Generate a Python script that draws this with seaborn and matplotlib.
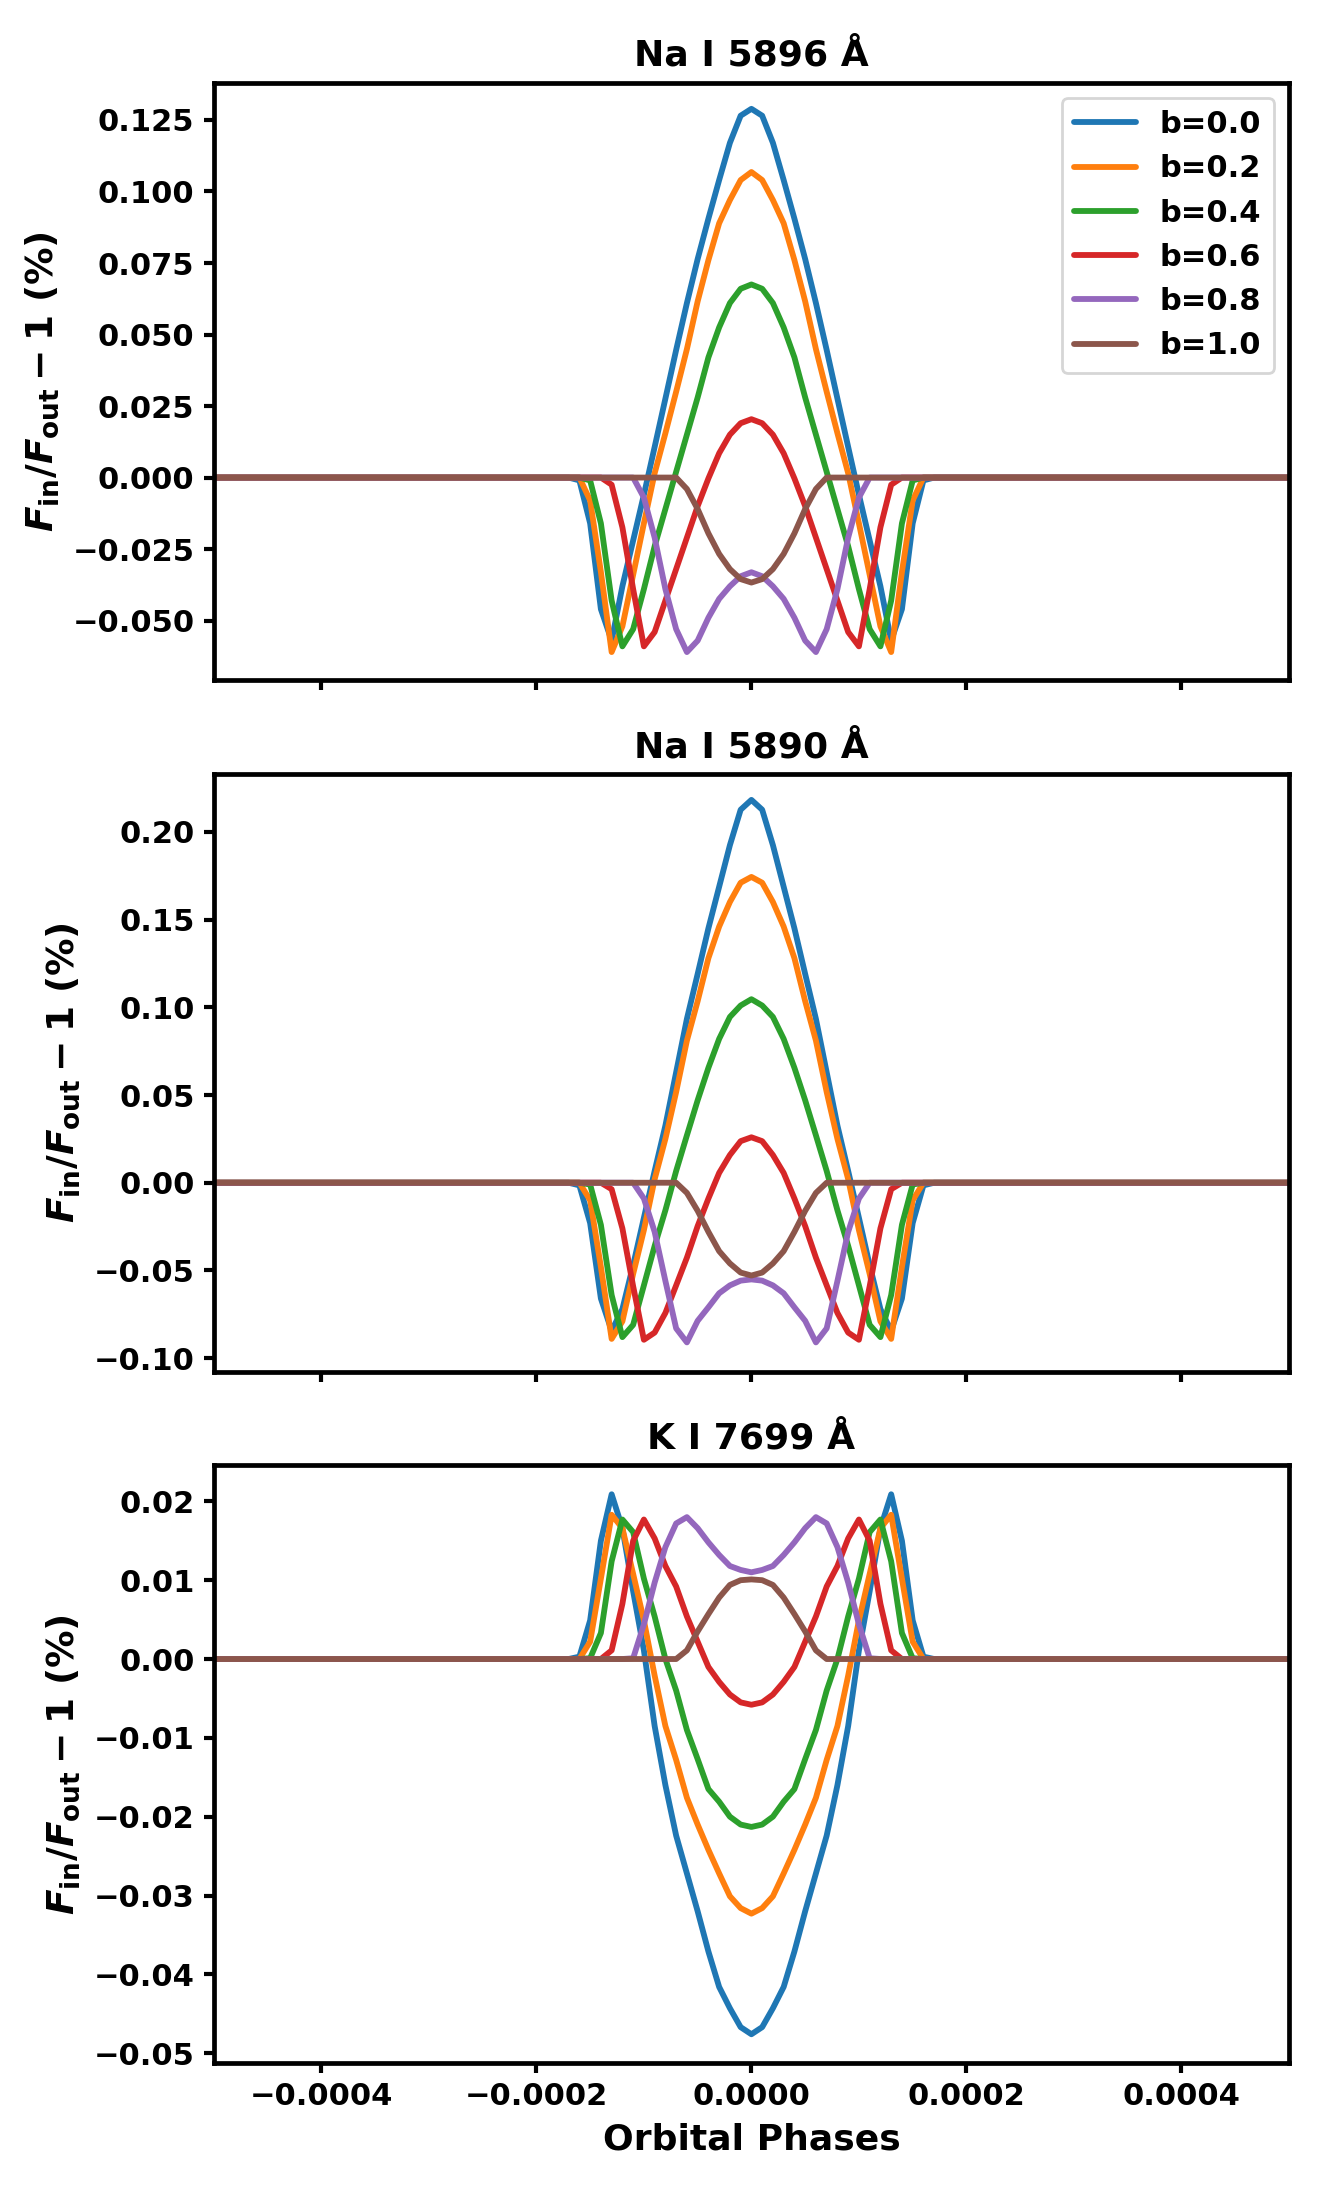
import numpy as np
import pandas as pd
import matplotlib
matplotlib.use("Agg")
import matplotlib.pyplot as plt
import seaborn as sns

# ------------------- Data -------------------
# orbital phase grid, in units of 1e-5
phase_1e5 = [-60, -17, -16, -15, -14, -13, -12, -11, -10, -9, -8, -7, -6, -5, -4, -3, -2, -1,
             0, 1, 2, 3, 4, 5, 6, 7, 8, 9, 10, 11, 12, 13, 14, 15, 16, 17, 60]

b_labels = ["b=0.0", "b=0.2", "b=0.4", "b=0.6", "b=0.8", "b=1.0"]
titles = ["Na I 5896 Å", "Na I 5890 Å", "K I 7699 Å"]

# Na I 5896
na5896_b00 = [0, 0, -0.001, -0.016, -0.046, -0.057, -0.038, -0.022, -0.006, 0.0107, 0.0276, 0.0446, 0.061, 0.0764, 0.0905, 0.104, 0.117, 0.1265,
              0.1289, 0.1265, 0.117, 0.104, 0.0905, 0.0764, 0.061, 0.0446, 0.0276, 0.0107, -0.006, -0.022, -0.038, -0.057, -0.046, -0.016, -0.001, 0, 0]
na5896_b02 = [0, 0, 0.0, -0.008, -0.033, -0.061, -0.052, -0.034, -0.016, 0.0015, 0.0155, 0.030, 0.0449, 0.0616, 0.076, 0.0889, 0.097, 0.104,
              0.1068, 0.104, 0.097, 0.0889, 0.076, 0.0616, 0.0449, 0.030, 0.0155, 0.0015, -0.016, -0.034, -0.052, -0.061, -0.033, -0.008, 0.0, 0, 0]
na5896_b04 = [0, 0, 0.0, -0.001, -0.016, -0.043, -0.059, -0.053, -0.039, -0.024, -0.011, 0.002, 0.015, 0.028, 0.042, 0.0525, 0.061, 0.066,
              0.0675, 0.066, 0.061, 0.0525, 0.042, 0.028, 0.015, 0.002, -0.011, -0.024, -0.039, -0.053, -0.059, -0.043, -0.016, -0.001, 0.0, 0, 0]
na5896_b06 = [0, 0, 0.0, 0.0, 0.0, -0.0025, -0.0174, -0.039, -0.059, -0.054, -0.043, -0.032, -0.021, -0.010, -0.0003, 0.0085, 0.015, 0.019,
              0.0204, 0.019, 0.015, 0.0085, -0.0003, -0.010, -0.021, -0.032, -0.043, -0.054, -0.059, -0.039, -0.0174, -0.0025, 0.0, 0.0, 0.0, 0, 0]
na5896_b08 = [0, 0, 0, 0, 0, 0, 0, 0.0, -0.007, -0.021, -0.039, -0.053, -0.061, -0.057, -0.049, -0.0424, -0.038, -0.0345,
              -0.0331, -0.0345, -0.038, -0.0424, -0.049, -0.057, -0.061, -0.053, -0.039, -0.021, -0.007, 0.0, 0, 0, 0, 0, 0, 0, 0]
na5896_b10 = [0, 0, 0, 0, 0, 0, 0, 0, 0, 0, 0, 0.0, -0.004, -0.011, -0.0195, -0.0267, -0.032, -0.0355,
              -0.0367, -0.0355, -0.032, -0.0267, -0.0195, -0.011, -0.004, 0.0, 0, 0, 0, 0, 0, 0, 0, 0, 0, 0, 0]

# Na I 5890
na5890_b00 = [0, 0, -0.0015, -0.023, -0.066, -0.0844, -0.072, -0.047, -0.020, 0.0067, 0.0326, 0.063, 0.0934, 0.119, 0.145, 0.1687, 0.1924, 0.2126,
              0.2182, 0.2126, 0.1924, 0.1687, 0.145, 0.119, 0.0934, 0.063, 0.0326, 0.0067, -0.020, -0.047, -0.072, -0.0844, -0.066, -0.023, -0.0015, 0, 0]
na5890_b02 = [0, 0, 0.0, -0.010, -0.048, -0.089, -0.079, -0.052, -0.027, 0.002, 0.025, 0.0517, 0.081, 0.1035, 0.128, 0.146, 0.160, 0.171,
              0.1743, 0.171, 0.160, 0.146, 0.128, 0.1035, 0.081, 0.0517, 0.025, 0.002, -0.027, -0.052, -0.079, -0.089, -0.048, -0.010, 0.0, 0, 0]
na5890_b04 = [0, 0, 0.0, -0.001, -0.024, -0.064, -0.088, -0.081, -0.0585, -0.036, -0.0157, 0.0067, 0.027, 0.047, 0.0655, 0.082, 0.0945, 0.101,
              0.1046, 0.101, 0.0945, 0.082, 0.0655, 0.047, 0.027, 0.0067, -0.0157, -0.036, -0.0585, -0.081, -0.088, -0.064, -0.024, -0.001, 0.0, 0, 0]
na5890_b06 = [0, 0, 0.0, 0.0, 0.0, -0.0037, -0.026, -0.059, -0.0895, -0.0854, -0.0742, -0.0585, -0.0427, -0.0247, -0.009, 0.0056, 0.0158, 0.0237,
              0.0259, 0.0237, 0.0158, 0.0056, -0.009, -0.0247, -0.0427, -0.0585, -0.0742, -0.0854, -0.0895, -0.059, -0.026, -0.0037, 0.0, 0.0, 0.0, 0, 0]
na5890_b08 = [0, 0, 0, 0, 0, 0, 0, 0.0, -0.009, -0.028, -0.056, -0.083, -0.091, -0.0787, -0.071, -0.063, -0.0585, -0.0558,
              -0.0551, -0.0558, -0.0585, -0.063, -0.071, -0.0787, -0.091, -0.083, -0.056, -0.028, -0.009, 0.0, 0, 0, 0, 0, 0, 0, 0]
na5890_b10 = [0, 0, 0, 0, 0, 0, 0, 0, 0, 0, 0, 0.0, -0.0058, -0.016, -0.028, -0.039, -0.046, -0.0512,
              -0.0529, -0.0512, -0.046, -0.039, -0.028, -0.016, -0.0058, 0.0, 0, 0, 0, 0, 0, 0, 0, 0, 0, 0, 0]

# K I 7699
k7699_b00 = [0, 0, 0.0003, 0.0049, 0.015, 0.0209, 0.0166, 0.0086, 0.0011, -0.0085, -0.016, -0.0224, -0.0272, -0.032, -0.0371, -0.0416, -0.0443, -0.0467,
             -0.0476, -0.0467, -0.0443, -0.0416, -0.0371, -0.032, -0.0272, -0.0224, -0.016, -0.0085, 0.0011, 0.0086, 0.0166, 0.0209, 0.015, 0.0049, 0.0003, 0, 0]
k7699_b02 = [0, 0, 0.0, 0.0022, 0.0102, 0.0183, 0.0166, 0.0108, 0.0049, -0.0021, -0.0085, -0.0128, -0.0176, -0.021, -0.0242, -0.0272, -0.0301, -0.0316,
             -0.0323, -0.0316, -0.0301, -0.0272, -0.0242, -0.021, -0.0176, -0.0128, -0.0085, -0.0021, 0.0049, 0.0108, 0.0166, 0.0183, 0.0102, 0.0022, 0.0, 0, 0]
k7699_b04 = [0, 0, 0.0, 0.0001, 0.0033, 0.0124, 0.0177, 0.0161, 0.0102, 0.0054, 0.0, -0.004, -0.009, -0.0127, -0.0165, -0.0181, -0.020, -0.021,
             -0.0213, -0.021, -0.020, -0.0181, -0.0165, -0.0127, -0.009, -0.004, 0.0, 0.0054, 0.0102, 0.0161, 0.0177, 0.0124, 0.0033, 0.0001, 0.0, 0, 0]
k7699_b06 = [0, 0, 0.0, 0.0, 0.0, 0.0011, 0.007, 0.015, 0.0177, 0.0153, 0.0118, 0.0092, 0.0054, 0.0022, -0.001, -0.0029, -0.0045, -0.0055,
             -0.0058, -0.0055, -0.0045, -0.0029, -0.001, 0.0022, 0.0054, 0.0092, 0.0118, 0.0153, 0.0177, 0.015, 0.007, 0.0011, 0.0, 0.0, 0.0, 0, 0]
k7699_b08 = [0, 0, 0, 0, 0, 0, 0, 0.0001, 0.0044, 0.0097, 0.0142, 0.0172, 0.018, 0.0166, 0.0148, 0.0132, 0.0118, 0.0113,
             0.011, 0.0113, 0.0118, 0.0132, 0.0148, 0.0166, 0.018, 0.0172, 0.0142, 0.0097, 0.0044, 0.0001, 0, 0, 0, 0, 0, 0, 0]
k7699_b10 = [0, 0, 0, 0, 0, 0, 0, 0, 0, 0, 0, 0.0, 0.0011, 0.0035, 0.0057, 0.0078, 0.0094, 0.01,
             0.0101, 0.01, 0.0094, 0.0078, 0.0057, 0.0035, 0.0011, 0.0, 0, 0, 0, 0, 0, 0, 0, 0, 0, 0, 0]

panels = [
    [na5896_b00, na5896_b02, na5896_b04, na5896_b06, na5896_b08, na5896_b10],
    [na5890_b00, na5890_b02, na5890_b04, na5890_b06, na5890_b08, na5890_b10],
    [k7699_b00, k7699_b02, k7699_b04, k7699_b06, k7699_b08, k7699_b10],
]
ylims = [(-0.0708, 0.1381), (-0.1076, 0.2330), (-0.05124, 0.02457)]

# ------------------- Style -------------------
sns.set_style("ticks")
plt.rcParams["font.family"] = ["DejaVu Sans"]
plt.rcParams["font.weight"] = "bold"
plt.rcParams["text.color"] = "black"
plt.rcParams["axes.labelcolor"] = "black"
plt.rcParams["xtick.color"] = "black"
plt.rcParams["ytick.color"] = "black"
plt.rcParams["axes.titleweight"] = "bold"
plt.rcParams["axes.labelweight"] = "bold"
plt.rcParams["mathtext.fontset"] = "custom"
plt.rcParams["mathtext.rm"] = "DejaVu Sans:bold"
plt.rcParams["mathtext.it"] = "DejaVu Sans:italic:bold"
plt.rcParams["mathtext.bf"] = "DejaVu Sans:bold"

colors = sns.color_palette("tab10", 6)
phase = np.array(phase_1e5) * 1e-5

# ------------------- Plot -------------------
fig, axes = plt.subplots(3, 1, figsize=(6.6, 11), sharex=True)
fig.subplots_adjust(left=0.162, right=0.9765, top=0.9625, bottom=0.0623, hspace=0.157)

for i, ax in enumerate(axes):
    frames = []
    for lab, vals in zip(b_labels, panels[i]):
        frames.append(pd.DataFrame({"phase": phase, "flux": vals, "b": lab}))
    df = pd.concat(frames, ignore_index=True)

    sns.lineplot(data=df, x="phase", y="flux", hue="b", palette=colors,
                 estimator=None, linewidth=2.1, ax=ax, legend=(i == 0))

    ax.set_xlim(-0.0005, 0.0005)
    ax.set_ylim(*ylims[i])
    ax.set_title(titles[i], fontsize=13, fontweight="bold", color="black")
    ax.set_ylabel(r"$F_{\rm in}/F_{\rm out} - 1$ (%)", fontsize=13.5, fontweight="bold")
    ax.set_xlabel("")
    for sp in ax.spines.values():
        sp.set_linewidth(1.7)
        sp.set_color("black")
    ax.tick_params(width=1.5, length=3.5, labelsize=11, colors="black")
    for lbl in ax.get_xticklabels() + ax.get_yticklabels():
        lbl.set_fontweight("bold")

    if i == 0:
        handles, labels = ax.get_legend_handles_labels()
        ax.legend(handles, labels, loc="upper right", prop={"weight": "bold", "size": 11})

axes[-1].set_xlabel("Orbital Phases", fontsize=13, fontweight="bold")

plt.savefig("out.png", dpi=200)
